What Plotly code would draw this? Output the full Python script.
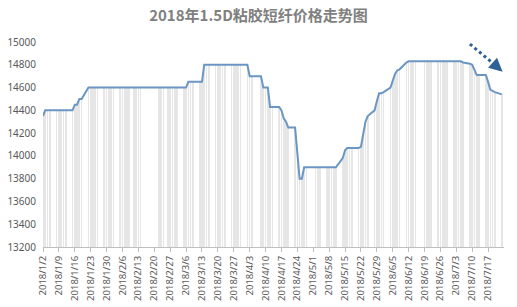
import plotly.graph_objects as go
import pandas as pd

dates = [
    "2018-01-02", "2018-01-03", "2018-01-04", "2018-01-05", "2018-01-08", "2018-01-09", "2018-01-10",
    "2018-01-11", "2018-01-12", "2018-01-15", "2018-01-16", "2018-01-17", "2018-01-18", "2018-01-19",
    "2018-01-22", "2018-01-23", "2018-01-24", "2018-01-25", "2018-01-26", "2018-01-29", "2018-01-30",
    "2018-01-31", "2018-02-01", "2018-02-02", "2018-02-05", "2018-02-06", "2018-02-07", "2018-02-08",
    "2018-02-09", "2018-02-11", "2018-02-12", "2018-02-13", "2018-02-14", "2018-02-22", "2018-02-23",
    "2018-02-24", "2018-02-26", "2018-02-27", "2018-02-28", "2018-03-01", "2018-03-02", "2018-03-05",
    "2018-03-06", "2018-03-07", "2018-03-08", "2018-03-09", "2018-03-12", "2018-03-13", "2018-03-14",
    "2018-03-15", "2018-03-16", "2018-03-19", "2018-03-20", "2018-03-21", "2018-03-22", "2018-03-23",
    "2018-03-26", "2018-03-27", "2018-03-28", "2018-03-29", "2018-03-30", "2018-04-02", "2018-04-03",
    "2018-04-04", "2018-04-08", "2018-04-09", "2018-04-10", "2018-04-11", "2018-04-12", "2018-04-13",
    "2018-04-16", "2018-04-17", "2018-04-18", "2018-04-19", "2018-04-20", "2018-04-23", "2018-04-24",
    "2018-04-25", "2018-04-26", "2018-04-27", "2018-04-28", "2018-05-02", "2018-05-03", "2018-05-04",
    "2018-05-07", "2018-05-08", "2018-05-09", "2018-05-10", "2018-05-11", "2018-05-14", "2018-05-15",
    "2018-05-16", "2018-05-17", "2018-05-18", "2018-05-21", "2018-05-22", "2018-05-23", "2018-05-24",
    "2018-05-25", "2018-05-28", "2018-05-29", "2018-05-30", "2018-05-31", "2018-06-01", "2018-06-04",
    "2018-06-05", "2018-06-06", "2018-06-07", "2018-06-08", "2018-06-11", "2018-06-12", "2018-06-13",
    "2018-06-14", "2018-06-15", "2018-06-19", "2018-06-20", "2018-06-21", "2018-06-22", "2018-06-25",
    "2018-06-26", "2018-06-27", "2018-06-28", "2018-06-29", "2018-07-02", "2018-07-03", "2018-07-04",
    "2018-07-05", "2018-07-06", "2018-07-09", "2018-07-10", "2018-07-11", "2018-07-12", "2018-07-13",
    "2018-07-16", "2018-07-17", "2018-07-18", "2018-07-19", "2018-07-20", "2018-07-23",
]

prices = [
    14350, 14400, 14400, 14400, 14400, 14400, 14400,
    14400, 14400, 14400, 14450, 14450, 14500, 14500,
    14600, 14600, 14600, 14600, 14600, 14600, 14600,
    14600, 14600, 14600, 14600, 14600, 14600, 14600,
    14600, 14600, 14600, 14600, 14600, 14600, 14600,
    14600, 14600, 14600, 14600, 14600, 14600, 14600,
    14600, 14650, 14650, 14650, 14650, 14650, 14800,
    14800, 14800, 14800, 14800, 14800, 14800, 14800,
    14800, 14800, 14800, 14800, 14800, 14800, 14700,
    14700, 14700, 14600, 14600, 14600, 14430, 14430,
    14430, 14400, 14330, 14300, 14250, 14250, 14000,
    13800, 13800, 13900, 13900, 13900, 13900, 13900,
    13900, 13900, 13900, 13900, 13900, 13980, 14050,
    14070, 14070, 14070, 14070, 14080, 14200, 14300,
    14350, 14400, 14480, 14550, 14550, 14560, 14600,
    14660, 14720, 14750, 14760, 14820, 14830, 14830,
    14830, 14830, 14830, 14830, 14830, 14830, 14830,
    14830, 14830, 14830, 14830, 14830, 14830, 14830,
    14830, 14820, 14810, 14800, 14750, 14710, 14710,
    14710, 14650, 14580, 14570, 14560, 14540,
]

tick_dates = [
    "2018-01-02", "2018-01-09", "2018-01-16", "2018-01-23", "2018-01-30", "2018-02-06", "2018-02-13",
    "2018-02-20", "2018-02-27", "2018-03-06", "2018-03-13", "2018-03-20", "2018-03-27", "2018-04-03",
    "2018-04-10", "2018-04-17", "2018-04-24", "2018-05-01", "2018-05-08", "2018-05-15", "2018-05-22",
    "2018-05-29", "2018-06-05", "2018-06-12", "2018-06-19", "2018-06-26", "2018-07-03", "2018-07-10",
    "2018-07-17",
]
tick_labels = [
    "2018/1/2", "2018/1/9", "2018/1/16", "2018/1/23", "2018/1/30", "2018/2/6", "2018/2/13",
    "2018/2/20", "2018/2/27", "2018/3/6", "2018/3/13", "2018/3/20", "2018/3/27", "2018/4/3",
    "2018/4/10", "2018/4/17", "2018/4/24", "2018/5/1", "2018/5/8", "2018/5/15", "2018/5/22",
    "2018/5/29", "2018/6/5", "2018/6/12", "2018/6/19", "2018/6/26", "2018/7/3", "2018/7/10",
    "2018/7/17",
]
y_ticks = [13200, 13400, 13600, 13800, 14000, 14200, 14400, 14600, 14800, 15000]
y_labels = [str(v) for v in y_ticks]

title_text = "2018年1.5D粘胶短纤价格走势图"

fig = go.Figure()

fig.add_trace(go.Bar(
    x=dates, y=prices, base=0,
    width=0.3 * 86400000,
    marker=dict(color="#e6e6e6", line=dict(width=0)),
    hoverinfo="skip", showlegend=False,
))

fig.add_trace(go.Scatter(
    x=dates, y=prices, mode="lines",
    line=dict(color="#6b96c4", width=2),
    showlegend=False,
))

# dotted down-trend arrow (decoration)
fig.add_shape(type="line", xref="paper", yref="paper",
              x0=0.926, y0=0.99, x1=0.982, y1=0.885,
              line=dict(color="#2f6096", width=3, dash="dot"))
fig.add_annotation(xref="x domain", yref="y domain", axref="x domain", ayref="y domain",
                   x=0.997, y=0.855, ax=0.982, ay=0.885,
                   text="", showarrow=True, arrowhead=2, arrowsize=0.9,
                   arrowwidth=3, arrowcolor="#2f6096")

fig.update_layout(
    width=517, height=307,
    margin=dict(l=43, r=13, t=42, b=60),
    paper_bgcolor="white", plot_bgcolor="white",
    bargap=0,
    title=dict(text="<b>" + title_text + "</b>", x=0.5, xanchor="center",
               y=0.95, yanchor="middle",
               font=dict(family="Noto Sans CJK SC", size=15, color="#808080")),
    font=dict(family="Noto Sans", size=10, color="#595959"),
    xaxis=dict(
        type="date",
        range=["2018-01-02", "2018-07-24"],
        tickvals=tick_dates, ticktext=tick_labels, tickangle=-90,
        ticks="outside", ticklen=4, tickcolor="#bfbfbf",
        showline=True, linecolor="#bfbfbf", linewidth=1,
        showgrid=False, zeroline=False, automargin=False,
        tickfont=dict(family="Noto Sans", size=9.5, color="#595959"),
    ),
    yaxis=dict(
        range=[13200, 15000], tickvals=y_ticks, ticktext=y_labels,
        showgrid=False, zeroline=False, showline=False,
        automargin=False, ticks="", ticklabelstandoff=6,
        tickfont=dict(family="Noto Sans", size=10, color="#595959"),
    ),
)

fig.write_html("out.html")
